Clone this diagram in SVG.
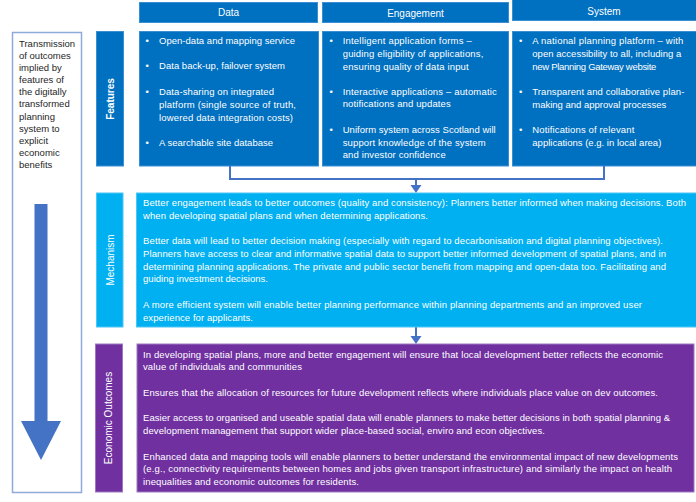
<svg xmlns="http://www.w3.org/2000/svg" width="696" height="502" viewBox="0 0 696 502">
<style>
.t{font-family:"Liberation Sans",Arial,sans-serif;font-size:9.5px;fill:#ffffff}
.dk{fill:#262626}
.hd{font-family:"Liberation Sans",Arial,sans-serif;font-size:10px;fill:#ffffff;text-anchor:middle}
.lbl{font-family:"Liberation Sans",Arial,sans-serif;font-size:10px;fill:#ffffff;text-anchor:middle}
.blue{fill:#0070C0;stroke:#3A8FD2;stroke-width:1}
.cyan{fill:#00B0F0;stroke:#4CC6F4;stroke-width:1}
.purp{fill:#7030A0;stroke:#9B78C2;stroke-width:1}
.conn{fill:none;stroke:#4472C4;stroke-width:2}
.head{fill:#4472C4}
</style>
<rect width="696" height="502" fill="#ffffff"/>

<g id="left-panel">
<rect x="12.5" y="32.5" width="69" height="460" fill="#ffffff" stroke="#8EAADB" stroke-width="1.5"/>
<text class="t dk" x="19" y="47">Transmission</text>
<text class="t dk" x="19" y="59">of outcomes</text>
<text class="t dk" x="19" y="71">implied by</text>
<text class="t dk" x="19" y="83">features of</text>
<text class="t dk" x="19" y="95">the digitally</text>
<text class="t dk" x="19" y="107">transformed</text>
<text class="t dk" x="19" y="119.5">planning</text>
<text class="t dk" x="19" y="131.5">system to</text>
<text class="t dk" x="19" y="144">explicit</text>
<text class="t dk" x="19" y="156">economic</text>
<text class="t dk" x="19" y="168">benefits</text>
<polygon points="34.5,204 47.5,204 47.5,421 61,421 41,460 21,421 34.5,421" fill="#4472C4"/>
</g>

<g id="header-data">
<rect class="blue" x="139.5" y="2.5" width="178" height="20"/>
<text class="hd" x="228.5" y="16">Data</text>
</g>
<g id="header-engagement">
<rect class="blue" x="322.5" y="2.5" width="186" height="20"/>
<text class="hd" x="415.5" y="16.5">Engagement</text>
</g>
<g id="header-system">
<rect class="blue" x="512.5" y="-1" width="186" height="21.5"/>
<text class="hd" x="604" y="14.5">System</text>
</g>

<g id="label-features">
<rect class="blue" x="96.5" y="31.5" width="27" height="134.5"/>
<text class="lbl" font-weight="bold" transform="translate(113.5,99) rotate(-90)">Features</text>
</g>

<g id="features-data">
<rect class="blue" x="139.5" y="31.5" width="179" height="134.5"/>
<text class="t" x="145.5" y="44">•</text>
<text class="t" x="159" y="44" textLength="136">Open-data and mapping service</text>
<text class="t" x="145.5" y="69">•</text>
<text class="t" x="159" y="69" textLength="126">Data back-up, failover system</text>
<text class="t" x="145.5" y="94.5">•</text>
<text class="t" x="159" y="94.5" textLength="115">Data-sharing on integrated</text>
<text class="t" x="159" y="108" textLength="137">platform (single source of truth,</text>
<text class="t" x="159" y="120.5" textLength="134">lowered data integration costs)</text>
<text class="t" x="145.5" y="145.5">•</text>
<text class="t" x="159" y="145.5" textLength="114">A searchable site database</text>
</g>

<g id="features-engagement">
<rect class="blue" x="322.5" y="31.5" width="186" height="134.5"/>
<text class="t" x="329.5" y="44">•</text>
<text class="t" x="342.7" y="44" textLength="129">Intelligent application forms –</text>
<text class="t" x="342.7" y="57" textLength="140.6">guiding eligibility of applications,</text>
<text class="t" x="342.7" y="69.5" textLength="126">ensuring quality of data input</text>
<text class="t" x="329.5" y="94.5">•</text>
<text class="t" x="342.7" y="94.5" textLength="154">Interactive applications – automatic</text>
<text class="t" x="342.7" y="107" textLength="108">notifications and updates</text>
<text class="t" x="329.5" y="133">•</text>
<text class="t" x="342.7" y="133" textLength="153">Uniform system across Scotland will</text>
<text class="t" x="342.7" y="145.5" textLength="143">support knowledge of the system</text>
<text class="t" x="342.7" y="158" textLength="103">and investor confidence</text>
</g>

<g id="features-system">
<rect class="blue" x="512.5" y="31.5" width="186" height="134.5"/>
<text class="t" x="519" y="44">•</text>
<text class="t" x="532.3" y="44" textLength="151">A national planning platform – with</text>
<text class="t" x="532.3" y="57" textLength="149">open accessibility to all, including a</text>
<text class="t" x="532.3" y="69.5" textLength="124">new Planning Gateway website</text>
<text class="t" x="519" y="94.5">•</text>
<text class="t" x="532.3" y="94.5" textLength="152">Transparent and collaborative plan-</text>
<text class="t" x="532.3" y="107.5" textLength="134">making and approval processes</text>
<text class="t" x="519" y="133">•</text>
<text class="t" x="532.3" y="133" textLength="102">Notifications of relevant</text>
<text class="t" x="532.3" y="146" textLength="129">applications (e.g. in local area)</text>
</g>

<g id="connectors">
<path class="conn" d="M230,166 V179 H604 V166"/>
<path class="conn" d="M416,179 V186"/>
<polygon class="head" points="410.5,185 421.5,185 416,193"/>
<path class="conn" d="M416,327 V337"/>
<polygon class="head" points="410.5,336 421.5,336 416,344"/>
</g>

<g id="label-mechanism">
<rect class="cyan" x="96.5" y="193" width="26.5" height="134"/>
<text class="lbl" transform="translate(113.5,260) rotate(-90)">Mechanism</text>
</g>

<g id="mechanism">
<rect class="cyan" x="136.5" y="193" width="561" height="134"/>
<text class="t" x="143" y="206" textLength="543">Better engagement leads to better outcomes (quality and consistency): Planners better informed when making decisions. Both</text>
<text class="t" x="143" y="219" textLength="285">when developing spatial plans and when determining applications.</text>
<text class="t" x="143" y="244" textLength="520">Better data will lead to better decision making (especially with regard to decarbonisation and digital planning objectives).</text>
<text class="t" x="143" y="257" textLength="523">Planners have access to clear and informative spatial data to support better informed development of spatial plans, and in</text>
<text class="t" x="143" y="269.5" textLength="523">determining planning applications. The private and public sector benefit from mapping and open-data too. Facilitating and</text>
<text class="t" x="143" y="282" textLength="125">guiding investment decisions.</text>
<text class="t" x="143" y="308" textLength="499">A more efficient system will enable better planning performance within planning departments and an improved user</text>
<text class="t" x="143" y="320.5" textLength="110">experience for applicants.</text>
</g>

<g id="label-economic">
<rect class="purp" x="95.5" y="344" width="27" height="148"/>
<text class="lbl" transform="translate(112,418) rotate(-90)">Economic Outcomes</text>
</g>

<g id="economic">
<rect class="purp" x="137" y="344" width="557" height="148"/>
<text class="t" x="143" y="357.5" textLength="520">In developing spatial plans, more and better engagement will ensure that local development better reflects the economic</text>
<text class="t" x="143" y="370" textLength="159">value of individuals and communities</text>
<text class="t" x="143" y="396" textLength="515">Ensures that the allocation of resources for future development reflects where individuals place value on dev outcomes.</text>
<text class="t" x="143" y="421" textLength="527">Easier access to organised and useable spatial data will enable planners to make better decisions in both spatial planning &amp;</text>
<text class="t" x="143" y="433.5" textLength="402">development management that support wider place-based social, enviro and econ objectives.</text>
<text class="t" x="143" y="459.5" textLength="535">Enhanced data and mapping tools will enable planners to better understand the environmental impact of new developments</text>
<text class="t" x="143" y="472" textLength="529">(e.g., connectivity requirements between homes and jobs given transport infrastructure) and similarly the impact on health</text>
<text class="t" x="143" y="484.5" textLength="216">inequalities and economic outcomes for residents.</text>
</g>
</svg>
